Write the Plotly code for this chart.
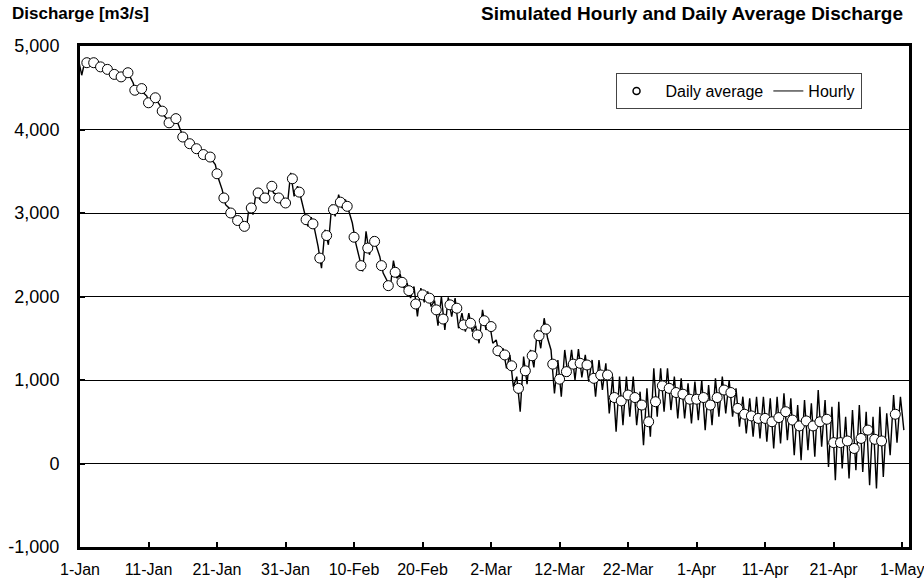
import pandas as pd
import plotly.graph_objects as go

# Daily average discharge [m3/s], one value per day from 2-Jan to 30-Apr (None = no value)
daily_avg = [
    4800, 4800, 4750, 4720, 4660, 4630, 4680, 4470, 4490, 4320,
    4380, 4220, 4080, 4130, 3910, 3830, 3770, 3700, 3670, 3470,
    3180, 3000, 2910, 2840, 3060, 3240, 3180, 3320, 3180, 3120,
    3410, 3250, 2920, 2870, 2460, 2730, 3040, 3130, 3080, 2710,
    2370, 2580, 2660, 2370, 2130, 2290, 2170, 2070, 1910, 2020,
    1980, 1840, 1730, 1900, 1860, 1660, 1680, 1540, 1710, 1640,
    1350, 1300, 1170, 900, 1110, 1290, 1530, 1610, 1190, 1010,
    1100, 1190, 1200, 1180, 1020, 1060, 1060, 790, 750, 820,
    790, 700, 500, 740, 930, 900, 850, 830, 770, 770,
    790, 700, 790, 880, 850, 660, 590, 570, 540, 540,
    500, 550, 620, 520, 450, 510, 450, 500, 530, 250,
    250, 270, 180, 300, 400, 290, 270, None, 590,
]

# Hourly discharge: daily peak and trough of the hourly series, 1-Jan to 1-May
hourly_peak = [
    4850, 4830, 4810, 4760, 4730, 4680, 4660, 4720, 4560, 4530,
    4400, 4420, 4280, 4120, 4170, 3980, 3870, 3800, 3740, 3690,
    3580, 3280, 3060, 2960, 2900, 3120, 3280, 3240, 3360, 3220,
    3180, 3480, 3320, 3020, 2950, 2600, 2800, 3100, 3220, 3160,
    2880, 2450, 2780, 2720, 2480, 2200, 2430, 2260, 2160, 2120,
    2100, 2060, 1950, 2000, 1990, 1980, 1800, 1800, 1650, 1840,
    1700, 1480, 1380, 1300, 1040, 1280, 1360, 1600, 1740, 1360,
    1240, 1360, 1360, 1370, 1300, 1240, 1240, 1200, 1040, 1040,
    1040, 1040, 860, 900, 1140, 1140, 1140, 1040, 1020, 960,
    980, 1000, 940, 1020, 1040, 1000, 900, 800, 780, 800,
    800, 780, 800, 840, 780, 700, 760, 720, 880, 760,
    680, 740, 560, 640, 700, 620, 560, 680, 600, 820,
    800,
]
hourly_trough = [
    4650, 4780, 4770, 4720, 4690, 4630, 4600, 4640, 4420, 4440,
    4270, 4340, 4170, 4030, 4080, 3870, 3800, 3740, 3670, 3640,
    3400, 3100, 2950, 2860, 2790, 2980, 3160, 3120, 3240, 3120,
    3080, 3200, 3180, 2840, 2800, 2340, 2620, 2960, 3060, 3020,
    2640, 2300, 2500, 2600, 2280, 2080, 2220, 2100, 1980, 1760,
    1930, 1880, 1650, 1600, 1760, 1620, 1580, 1580, 1440, 1600,
    1440, 1280, 1140, 920, 620, 950, 1150, 1380, 1500, 840,
    800, 1040, 1000, 1030, 980, 800, 880, 600, 380, 460,
    560, 460, 220, 320, 560, 620, 640, 540, 540, 480,
    520, 400, 460, 560, 600, 560, 440, 360, 320, 300,
    260, 180, 240, 280, 100, 40, 160, 80, 200, -40,
    -200, -60, -180, -80, -100, -260, -300, -160, 100, 250,
    400,
]

# Y-axis ticks and their labels
y_ticks = [-1000, 0, 1000, 2000, 3000, 4000, 5000]
y_tick_labels = ["-1,000", "0", "1,000", "2,000", "3,000", "4,000", "5,000"]

daily_dates = pd.date_range("2023-01-02", periods=len(daily_avg), freq="D")
hourly_days = pd.date_range("2023-01-01", periods=len(hourly_peak), freq="D")

# Interleave the peak (morning) and trough (evening) of each day into one hourly trace
hx, hy = [], []
for day, pk, tr in zip(hourly_days, hourly_peak, hourly_trough):
    hx += [day - pd.Timedelta(hours=6), day + pd.Timedelta(hours=6)]
    hy += [pk, tr]

FONT = "Liberation Sans, Arial, sans-serif"

fig = go.Figure()
fig.add_trace(go.Scatter(
    x=hx, y=hy, mode="lines", line=dict(color="black", width=1.4),
    showlegend=False, hoverinfo="skip",
))
fig.add_trace(go.Scatter(
    x=daily_dates, y=daily_avg, mode="markers",
    marker=dict(symbol="circle", size=10, color="white",
                line=dict(color="black", width=1)),
    showlegend=False,
))
# Legend entries
fig.add_trace(go.Scatter(
    x=[None], y=[None], mode="markers", name="\u00a0\u00a0Daily average",
    marker=dict(symbol="circle", size=7, color="white",
                line=dict(color="black", width=1.5)),
))
fig.add_trace(go.Scatter(
    x=[None], y=[None], mode="lines", name="Hourly",
    line=dict(color="black", width=1),
))

fig.update_layout(
    width=924, height=582,
    margin=dict(l=80, r=15, t=46, b=35, autoexpand=False),
    paper_bgcolor="white", plot_bgcolor="white",
    font=dict(family=FONT, size=16, color="black"),
    legend=dict(
        orientation="h", x=0.646, y=0.946, xanchor="left", yanchor="top",
        bgcolor="white", bordercolor="#444", borderwidth=1,
        font=dict(size=16), itemwidth=30, tracegroupgap=0,
    ),
    annotations=[
        dict(text="<b>Discharge [m3/s]</b>", xref="paper", yref="paper",
             x=-0.085, y=1.064, xanchor="left", yanchor="middle",
             showarrow=False, font=dict(size=17)),
        dict(text="<b>Simulated Hourly and Daily Average Discharge</b>",
             xref="paper", yref="paper", x=0.995, y=1.064,
             xanchor="right", yanchor="middle", showarrow=False,
             font=dict(size=19)),
    ],
)

fig.update_xaxes(
    type="date", range=["2023-01-01", "2023-05-02"],
    tickmode="linear", tick0="2023-01-01", dtick=10 * 86400000,
    tickformat="%-d-%b", tickfont=dict(size=16),
    ticklabeloverflow="allow", automargin=False,
    showgrid=False, zeroline=False,
    showline=True, linecolor="black", linewidth=3, mirror=True,
    ticks="inside", ticklen=5, tickwidth=2, tickcolor="black",
    ticklabelstandoff=6,
)
fig.update_yaxes(
    range=[-1000, 5000], tickmode="array", tickvals=y_ticks,
    ticktext=y_tick_labels, tickfont=dict(size=18), automargin=False,
    showgrid=True, gridcolor="black", gridwidth=1,
    zeroline=False,
    showline=True, linecolor="black", linewidth=3, mirror=True,
    ticks="inside", ticklen=5, tickwidth=2, tickcolor="black",
    ticklabelstandoff=14,
)

fig.write_html("out.html")
